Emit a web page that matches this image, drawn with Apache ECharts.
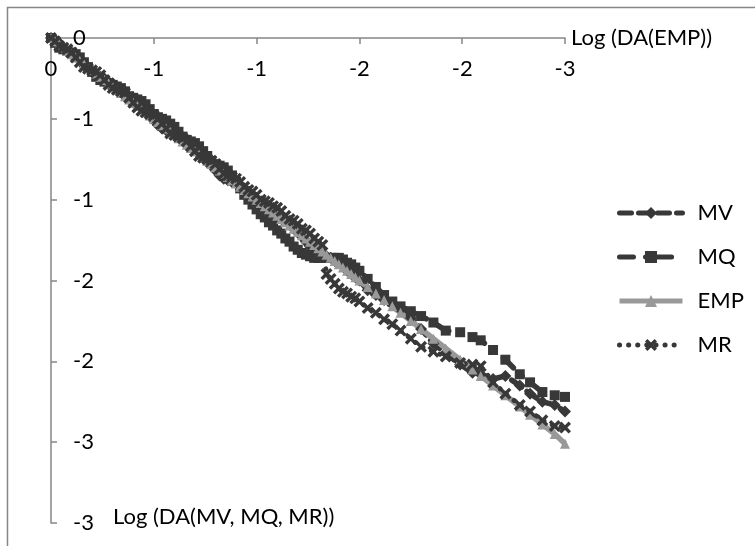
<!DOCTYPE html>
<html>
<head>
<meta charset="utf-8">
<script src="https://cdn.jsdelivr.net/npm/echarts@6/dist/echarts.min.js"></script>
<style>
html,body{margin:0;padding:0;background:#fff;}
#chart{width:755px;height:546px;}
</style>
</head>
<body>
<div id="chart"></div>
<script>
// ---- data ----
var seriesNames = ['MV', 'MQ', 'EMP', 'MR'];
var xTickLabels = ['0', '-1', '-1', '-2', '-2', '-3'];          // at 0, -0.5, ... -2.5
var yTickLabels = ['0', '-1', '-1', '-2', '-2', '-3', '-3'];    // at 0, -0.5, ... -3
var xAxisTitle = 'Log (DA(EMP))';
var yAxisTitle = 'Log (DA(MV, MQ, MR))';

var xEmp = [0, -0.02, -0.04, -0.06, -0.08, -0.1, -0.12, -0.14, -0.16, -0.18,
  -0.2, -0.22, -0.24, -0.26, -0.28, -0.3, -0.32, -0.34, -0.36, -0.38,
  -0.4, -0.42, -0.44, -0.46, -0.48, -0.5, -0.52, -0.54, -0.56, -0.58,
  -0.6, -0.62, -0.64, -0.66, -0.68, -0.7, -0.72, -0.74, -0.76, -0.78,
  -0.8, -0.82, -0.84, -0.86, -0.88, -0.9, -0.92, -0.94, -0.96, -0.98,
  -1.0, -1.02, -1.04, -1.06, -1.08, -1.1, -1.12, -1.14, -1.16, -1.18,
  -1.2, -1.22, -1.24, -1.26, -1.28, -1.3, -1.32, -1.34, -1.36, -1.38,
  -1.4, -1.42, -1.44, -1.46, -1.48, -1.5,
  -1.54, -1.58, -1.62, -1.66, -1.7, -1.75, -1.8, -1.86, -1.92,
  -1.99, -2.05, -2.09, -2.15, -2.21, -2.28, -2.33, -2.39, -2.45, -2.5];

var yMV = [0, -0.01, -0.03, -0.06, -0.09, -0.10, -0.11, -0.13, -0.16, -0.18,
  -0.21, -0.23, -0.24, -0.25, -0.27, -0.28, -0.30, -0.32, -0.35, -0.38,
  -0.40, -0.41, -0.42, -0.45, -0.48, -0.51, -0.54, -0.56, -0.57, -0.58,
  -0.60, -0.61, -0.63, -0.64, -0.66, -0.69, -0.72, -0.74, -0.77, -0.79,
  -0.82, -0.85, -0.87, -0.88, -0.89, -0.90, -0.91, -0.93, -0.96, -0.98,
  -1.01, -1.04, -1.07, -1.09, -1.10, -1.11, -1.12, -1.13, -1.15, -1.18,
  -1.20, -1.23, -1.26, -1.29, -1.31, -1.32, -1.34, -1.35, -1.36, -1.38,
  -1.39, -1.41, -1.44, -1.46, -1.48, -1.50,
  -1.56, -1.59, -1.62, -1.65, -1.68, -1.73, -1.80, -1.89, -1.95,
  -2.02, -2.07, -2.08, -2.11, -2.09, -2.15, -2.20, -2.25, -2.27, -2.31];

var yMQ = [0, -0.03, -0.06, -0.07, -0.08, -0.09, -0.10, -0.12, -0.15, -0.18,
  -0.21, -0.24, -0.26, -0.27, -0.28, -0.29, -0.30, -0.31, -0.33, -0.36,
  -0.37, -0.38, -0.39, -0.41, -0.44, -0.47, -0.49, -0.50, -0.51, -0.53,
  -0.55, -0.58, -0.61, -0.63, -0.64, -0.65, -0.67, -0.70, -0.73, -0.76,
  -0.78, -0.79, -0.80, -0.82, -0.85, -0.89, -0.93, -0.97, -1.00, -1.03,
  -1.06, -1.09, -1.11, -1.14, -1.16, -1.19, -1.21, -1.24, -1.26, -1.29,
  -1.31, -1.33, -1.34, -1.35, -1.36, -1.36, -1.36, -1.36, -1.36, -1.36,
  -1.36, -1.37, -1.39, -1.40, -1.42, -1.44,
  -1.49, -1.54, -1.59, -1.63, -1.66, -1.69, -1.72, -1.76, -1.81,
  -1.82, -1.85, -1.87, -1.93, -1.99, -2.08, -2.13, -2.19, -2.21, -2.22];

var yEMP = [0, -0.02, -0.04, -0.06, -0.08, -0.1, -0.12, -0.14, -0.16, -0.18,
  -0.2, -0.22, -0.24, -0.26, -0.28, -0.3, -0.32, -0.34, -0.36, -0.38,
  -0.4, -0.42, -0.44, -0.46, -0.48, -0.5, -0.52, -0.54, -0.56, -0.58,
  -0.6, -0.62, -0.64, -0.66, -0.68, -0.7, -0.72, -0.74, -0.76, -0.78,
  -0.8, -0.82, -0.84, -0.86, -0.88, -0.9, -0.92, -0.94, -0.96, -0.98,
  -1.0, -1.02, -1.04, -1.06, -1.08, -1.1, -1.12, -1.14, -1.16, -1.18,
  -1.2, -1.22, -1.24, -1.26, -1.28, -1.3, -1.32, -1.34, -1.36, -1.38,
  -1.4, -1.42, -1.44, -1.46, -1.48, -1.5,
  -1.54, -1.58, -1.62, -1.66, -1.7, -1.75, -1.8, -1.86, -1.92,
  -1.99, -2.05, -2.09, -2.15, -2.21, -2.28, -2.33, -2.39, -2.45, -2.51];

var yMR = [0, -0.02, -0.05, -0.06, -0.07, -0.09, -0.12, -0.15, -0.18, -0.19,
  -0.20, -0.21, -0.23, -0.26, -0.29, -0.31, -0.32, -0.33, -0.34, -0.37,
  -0.40, -0.43, -0.45, -0.46, -0.47, -0.48, -0.50, -0.53, -0.56, -0.59,
  -0.60, -0.61, -0.62, -0.64, -0.67, -0.70, -0.73, -0.74, -0.75, -0.76,
  -0.78, -0.81, -0.84, -0.85, -0.86, -0.87, -0.89, -0.92, -0.94, -0.95,
  -0.97, -1.00, -1.01, -1.02, -1.04, -1.05, -1.07, -1.10, -1.12, -1.13,
  -1.15, -1.18, -1.19, -1.21, -1.24, -1.26, -1.28, -1.46, -1.49, -1.52,
  -1.55, -1.57, -1.58, -1.60, -1.61, -1.63,
  -1.67, -1.70, -1.74, -1.77, -1.81, -1.86, -1.91, -1.94, -1.97,
  -2.01, -2.02, -2.03, -2.13, -2.20, -2.27, -2.31, -2.365, -2.40, -2.41];

// ---- build ----
function pairs(xs, ys) { return xs.map(function (x, i) { return [x, ys[i]]; }); }

var FONT = 'Lato';
var FS = 22;
var DARK = '#383838';
var GRAY = '#999999';
var AXIS = '#868686';
var xMark = 'path://M0,2L2,0L5,3L8,0L10,2L7,5L10,8L8,10L5,7L2,10L0,8L3,5Z';

var chart = echarts.init(document.getElementById('chart'), null, { renderer: 'canvas' });
chart.setOption({
  backgroundColor: '#ffffff',
  animation: false,
  textStyle: { fontFamily: FONT },
  graphic: [{
    type: 'rect', silent: true, z: -1,
    shape: { x: 7.5, y: 7.5, width: 900, height: 700 },
    style: { fill: 'none', stroke: AXIS, lineWidth: 1.5 }
  }],
  grid: { left: 51, top: 38, right: 190, bottom: 23, containLabel: false },
  legend: {
    orient: 'vertical', left: 612, top: 197,
    itemWidth: 63, itemHeight: 15, itemGap: 22,
    data: seriesNames,
    lineStyle: { width: 5 },
    textStyle: { fontFamily: FONT, fontSize: FS, color: '#000', padding: [0, 0, 0, 10] }
  },
  xAxis: {
    type: 'value', position: 'top', inverse: true,
    min: -2.5, max: 0, interval: 0.5,
    name: xAxisTitle, nameLocation: 'start', nameGap: 6,
    nameTextStyle: { fontFamily: FONT, fontSize: FS, color: '#000', align: 'left', verticalAlign: 'middle', padding: [8, 0, 0, 0] },
    axisLine: { show: true, onZero: false, lineStyle: { color: AXIS, width: 1.5 } },
    axisTick: { show: true, inside: true, length: 6, lineStyle: { color: AXIS, width: 1.5 } },
    axisLabel: {
      inside: true, margin: 20, fontSize: FS, color: '#000', fontFamily: FONT,
      formatter: function (v) { return xTickLabels[Math.round(-v / 0.5)]; }
    },
    splitLine: { show: false }
  },
  yAxis: {
    type: 'value', position: 'left',
    min: -3, max: 0, interval: 0.5,
    name: yAxisTitle, nameLocation: 'start', nameGap: -6,
    nameTextStyle: { fontFamily: FONT, fontSize: FS, color: '#000', align: 'left', verticalAlign: 'middle', padding: [0, 0, 0, 62] },
    axisLine: { show: true, onZero: false, lineStyle: { color: AXIS, width: 1.5 } },
    axisTick: { show: true, inside: true, length: 6, lineStyle: { color: AXIS, width: 1.5 } },
    axisLabel: {
      inside: true, margin: 22, fontSize: FS, color: '#000', fontFamily: FONT,
      formatter: function (v) { return yTickLabels[Math.round(-v / 0.5)]; }
    },
    splitLine: { show: false }
  },
  series: [
    {
      name: 'MV', type: 'line', data: pairs(xEmp, yMV),
      symbol: 'diamond', symbolSize: 12, showAllSymbol: true, clip: false,
      itemStyle: { color: DARK },
      lineStyle: { color: DARK, width: 5.5, type: [12, 7], cap: 'round' }
    },
    {
      name: 'MQ', type: 'line', data: pairs(xEmp, yMQ),
      symbol: 'rect', symbolSize: 10, showAllSymbol: true, clip: false,
      itemStyle: { color: DARK },
      lineStyle: { color: DARK, width: 5.5, type: [14, 12, 0.1, 12], cap: 'round' }
    },
    {
      name: 'EMP', type: 'line', data: pairs(xEmp, yEMP),
      symbol: 'triangle', symbolSize: 10, showAllSymbol: true, clip: false,
      itemStyle: { color: GRAY },
      lineStyle: { color: GRAY, width: 5.5 }
    },
    {
      name: 'MR', type: 'line', data: pairs(xEmp, yMR),
      symbol: xMark, symbolSize: 12, showAllSymbol: true, clip: false,
      itemStyle: { color: DARK },
      lineStyle: { color: DARK, width: 5, type: [0.1, 9], cap: 'round' }
    }
  ]
});
</script>
</body>
</html>
